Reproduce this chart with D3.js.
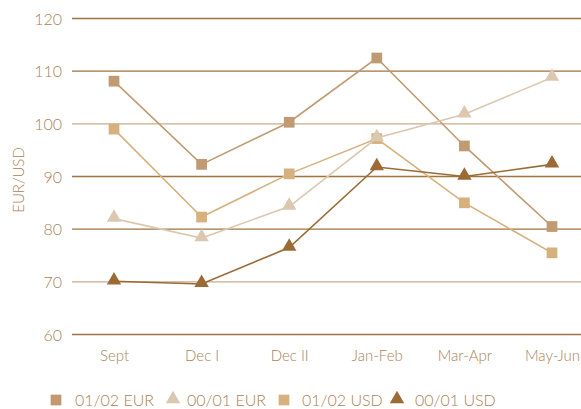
<!DOCTYPE html>
<html><head><meta charset="utf-8">
<script src="https://cdn.jsdelivr.net/npm/d3@7"></script>
<style>
body{margin:0;background:#fff;}
text{font-family:Lato,"Open Sans",sans-serif;font-weight:300;fill:#a9825a;}
</style></head>
<body><svg id="c" width="581" height="409"></svg>
<script>
const categories = ["Sept","Dec I","Dec II","Jan-Feb","Mar-Apr","May-Jun"];
const eur0102 = [108.1, 92.3, 100.3, 112.5, 95.8, 80.5];
const eur0001 = [82.0, 78.3, 84.3, 97.3, 101.8, 108.8];
const usd0102 = [99.0, 82.3, 90.5, 97.2, 85.0, 75.5];
const usd0001 = [70.1, 69.6, 76.5, 91.8, 90.0, 92.3];
const yTicks = [60,70,80,90,100,110,120];

const series = [
  {name:"01/02 EUR", values:eur0102, shape:"square", color:"#bf9a72"},
  {name:"00/01 EUR", values:eur0001, shape:"triangle", color:"#dcc7b0"},
  {name:"01/02 USD", values:usd0102, shape:"square", color:"#d6b17e"},
  {name:"00/01 USD", values:usd0001, shape:"triangle", color:"#9b6a35"}
];
const drawOrder = [0,2,1,3];

const svg = d3.select("#c");
const x = d3.scalePoint().domain(categories).range([114,552]);
const y = d3.scaleLinear().domain([60,120]).range([334.5,18.5]);

// gridlines
const gridLight = {100:true,70:true};
svg.append("g").selectAll("line").data(yTicks).join("line")
  .attr("x1",72).attr("x2",581)
  .attr("y1",d=>y(d)).attr("y2",d=>y(d))
  .attr("stroke",d=>gridLight[d]?"#c9ab8a":"#a2723f")
  .attr("stroke-width",1.3);

// y axis labels
const yAxis = d3.axisLeft(y).tickValues(yTicks).tickSize(0).tickPadding(0);
const gy = svg.append("g").attr("transform","translate(62,0)").call(yAxis);
gy.select(".domain").remove();
gy.selectAll("text").attr("font-size",16).style("font-family","Lato,sans-serif").attr("fill","#a9825a").attr("dy","0.35em");

// x axis labels
const xAxis = d3.axisBottom(x).tickSize(0).tickPadding(0);
const gx = svg.append("g").attr("transform","translate(0,350)").call(xAxis);
gx.select(".domain").remove();
gx.selectAll("text").attr("font-size",15).style("font-family","Lato,sans-serif").attr("fill","#a9825a").attr("dy","0.71em");

// y title
svg.append("text").attr("transform","translate(24,180) rotate(-90)")
  .attr("text-anchor","middle").attr("font-size",15).text("EUR/USD");

const line = d3.line().x((d,i)=>x(categories[i])).y(d=>y(d));
const sym = {square:d3.symbol().type(d3.symbolSquare).size(115),
             triangle:d3.symbol().type(d3.symbolTriangle).size(90)};

drawOrder.forEach(k=>{
  const s = series[k];
  const g = svg.append("g");
  g.append("path").attr("d",line(s.values)).attr("fill","none")
    .attr("stroke",s.color).attr("stroke-width",1.6);
  g.selectAll("path.m").data(s.values).join("path").attr("class","m")
    .attr("transform",(d,i)=>`translate(${x(categories[i])},${y(d) + (s.shape==="triangle"?-1:0)})`)
    .attr("d",sym[s.shape]()).attr("fill",s.color);
});

// legend
const legendX = [56, 173, 284, 397];
const legendTextX = [75, 187, 302, 415];
series.forEach((s,i)=>{
  svg.append("path").attr("transform",`translate(${legendX[i]},${s.shape==="triangle"?399:400})`)
    .attr("d",sym[s.shape]()).attr("fill",s.color);
  svg.append("text").attr("x",legendTextX[i]).attr("y",406).attr("font-size",16).text(s.name);
});
</script></body></html>
